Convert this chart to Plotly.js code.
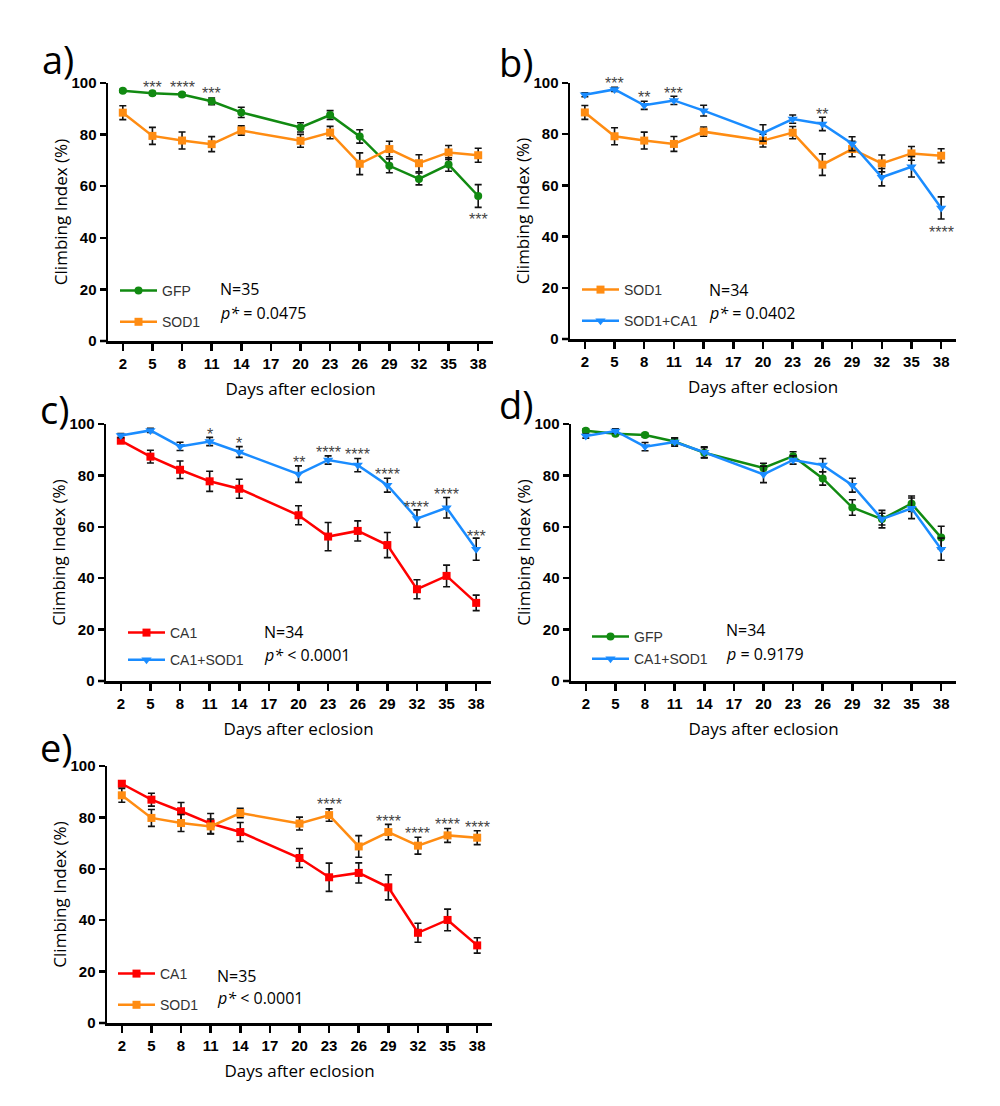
<!DOCTYPE html>
<html>
<head>
<meta charset="utf-8">
<script src="https://cdn.plot.ly/plotly-3.0.1.min.js"></script>
<style>body{margin:0;background:#fff}</style>
</head>
<body>
<div id="chart" style="width:1000px;height:1106px"></div>
<script>
const days = [2, 5, 8, 11, 14, 20, 23, 26, 29, 32, 35, 38]
const tickDays = [2, 5, 8, 11, 14, 17, 20, 23, 26, 29, 32, 35, 38]
const yTicks = [0, 20, 40, 60, 80, 100]

// a) GFP vs SOD1
const aGFP = [97.0, 96.0, 95.5, 92.9, 88.6, 82.8, 87.6, 79.3, 67.9, 62.8, 68.4, 56.2]
const aGFPErr = [0.6, 0.7, 0.7, 1.3, 2.0, 1.8, 1.7, 2.6, 2.7, 2.3, 2.6, 4.4]
const aSOD1 = [88.5, 79.5, 77.7, 76.3, 81.6, 77.6, 80.8, 68.7, 74.4, 68.9, 73.1, 72.0]
const aSOD1Err = [2.7, 3.3, 3.3, 2.9, 1.8, 2.5, 2.4, 4.2, 3.0, 3.3, 2.7, 2.7]
const aStarDays = [5, 8, 11, 38]
const aStars = ['***', '****', '***', '***']
const aStarY = [100.0, 100.0, 97.4, 48.8]

// b) SOD1 vs SOD1+CA1
const bSOD1 = [88.5, 79.2, 77.5, 76.2, 81.0, 77.5, 80.6, 68.1, 74.2, 68.6, 72.5, 71.6]
const bSOD1Err = [2.7, 3.3, 3.3, 2.9, 1.8, 2.5, 2.4, 4.2, 3.0, 3.3, 2.7, 2.7]
const bSOD1CA1 = [95.4, 97.5, 91.3, 93.2, 89.2, 80.5, 85.9, 84.0, 76.3, 63.2, 67.3, 51.2]
const bSOD1CA1Err = [0.8, 0.8, 1.6, 1.6, 2.1, 3.2, 1.6, 2.6, 2.7, 3.4, 4.0, 4.3]
const bStarDays = [5, 8, 11, 26, 38]
const bStars = ['***', '**', '***', '**', '****']
const bStarY = [101.3, 95.8, 97.4, 89.3, 43.1]

// c) CA1 vs CA1+SOD1
const cCA1 = [93.5, 87.3, 82.2, 77.7, 74.8, 64.5, 56.2, 58.4, 52.9, 35.7, 40.9, 30.4]
const cCA1Err = [1.0, 2.5, 3.4, 3.9, 3.7, 3.7, 5.5, 3.9, 4.9, 3.7, 4.2, 3.0]
const cCA1SOD1 = [95.5, 97.5, 91.3, 93.2, 89.1, 80.5, 86.0, 84.0, 76.2, 63.2, 67.4, 51.3]
const cCA1SOD1Err = [0.8, 0.8, 1.6, 1.6, 2.1, 3.2, 1.6, 2.6, 2.7, 3.4, 4.0, 4.3]
const cStarDays = [11, 14, 20, 23, 26, 29, 32, 35, 38]
const cStars = ['*', '*', '**', '****', '****', '****', '****', '****', '***']
const cStarY = [97.5, 93.9, 86.5, 90.3, 89.6, 82.0, 69.2, 74.2, 57.9]

// d) GFP vs CA1+SOD1
const dGFP = [97.4, 96.2, 95.7, 93.2, 88.8, 82.9, 87.5, 78.8, 67.5, 63.0, 69.0, 55.8]
const dGFPErr = [0.6, 0.7, 0.7, 1.3, 2.0, 1.8, 1.7, 2.6, 3.0, 2.3, 3.0, 4.4]
const dCA1SOD1 = [95.3, 97.3, 91.2, 93.0, 89.0, 80.4, 86.0, 84.0, 76.2, 63.0, 67.2, 51.3]
const dCA1SOD1Err = [0.8, 0.8, 1.6, 1.6, 2.1, 3.2, 1.6, 2.6, 2.7, 3.4, 4.0, 4.3]

// e) CA1 vs SOD1
const eCA1 = [93.1, 86.9, 82.4, 77.6, 74.3, 64.2, 56.7, 58.4, 52.8, 35.1, 40.1, 30.2]
const eCA1Err = [1.0, 2.5, 3.4, 3.9, 3.7, 3.7, 5.5, 3.9, 4.9, 3.7, 4.2, 3.0]
const eSOD1 = [88.6, 79.8, 77.8, 76.5, 81.7, 77.6, 80.9, 68.7, 74.3, 69.0, 73.0, 72.1]
const eSOD1Err = [2.7, 3.3, 3.3, 2.9, 1.8, 2.5, 2.4, 4.2, 3.0, 3.3, 2.7, 2.7]
const eStarDays = [23, 29, 32, 35, 38]
const eStars = ['****', '****', '****', '****', '****']
const eStarY = [86.4, 79.8, 75.2, 78.9, 77.8]

const W = 1000, H = 1106
const px = x => x / W
const py = y => 1 - y / H

const GREEN = '#118a11', ORANGE = '#ff8c12', BLUE = '#1a8cff', RED = '#ff0000'
const style = {
    GFP: {color: GREEN, symbol: 'circle', size: 8},
    SOD1: {color: ORANGE, symbol: 'square', size: 8},
    CA1: {color: RED, symbol: 'square', size: 8},
    'SOD1+CA1': {color: BLUE, symbol: 'triangle-down', size: 9},
    'CA1+SOD1': {color: BLUE, symbol: 'triangle-down', size: 9},
}

const panels = [
    {label: 'a)', lab: [40, 59], box: [108, 493, 83, 341], series: [['GFP', aGFP, aGFPErr], ['SOD1', aSOD1, aSOD1Err]],
        stars: [aStarDays, aStars, aStarY], legend: [115, 275, 10], note: [218, 'N=35', '<i>p*</i> = 0.0475'], noteY: [289, 313]},
    {label: 'b)', lab: [497, 62], box: [570, 956, 83, 339], series: [['SOD1', bSOD1, bSOD1Err], ['SOD1+CA1', bSOD1CA1, bSOD1CA1Err]],
        stars: [bStarDays, bStars, bStarY], legend: [577, 274, 10], note: [707, 'N=34', '<i>p*</i> = 0.0402'], noteY: [290, 313]},
    {label: 'c)', lab: [38, 409], box: [106, 491, 424, 681], series: [['CA1', cCA1, cCA1Err], ['CA1+SOD1', cCA1SOD1, cCA1SOD1Err]],
        stars: [cStarDays, cStars, cStarY], legend: [123, 617, 6], note: [262, 'N=34', '<i>p*</i> < 0.0001'], noteY: [632, 655]},
    {label: 'd)', lab: [497, 404], box: [571, 956, 424, 681], series: [['GFP', dGFP, dGFPErr], ['CA1+SOD1', dCA1SOD1, dCA1SOD1Err]],
        stars: null, legend: [587, 621, 1], note: [724, 'N=34', '<i>p</i> = 0.9179'], noteY: [630, 654]},
    {label: 'e)', lab: [38, 747], box: [107, 492, 766, 1023], series: [['CA1', eCA1, eCA1Err], ['SOD1', eSOD1, eSOD1Err]],
        stars: [eStarDays, eStars, eStarY], legend: [113, 958, 10], note: [215, 'N=35', '<i>p*</i> < 0.0001'], noteY: [976, 998]},
]

const data = []
const layout = {
    width: W, height: H,
    margin: {l: 0, r: 0, t: 0, b: 0},
    paper_bgcolor: 'white', plot_bgcolor: 'white',
    showlegend: true,
    font: {family: 'Liberation Sans, Arial, sans-serif', color: '#000'},
    annotations: [],
    shapes: [],
}

panels.forEach((p, i) => {
    const n = i === 0 ? '' : String(i + 1)
    const xa = 'x' + n, ya = 'y' + n
    const legendId = i === 0 ? 'legend' : 'legend' + (i + 1)
    const [x0, x1, yTop, yBot] = p.box
    const pxPerUnit = (yBot - yTop) / 100

    p.series.forEach(([name, vals, errs], k) => {
        const s = style[name]
        data.push({
            type: 'scatter', mode: 'lines+markers', name: name,
            x: days, y: vals,
            xaxis: xa, yaxis: ya,
            legend: legendId, legendgroup: 'g' + i + '_' + k,
            line: {color: s.color, width: 2.5},
            marker: {color: s.color, symbol: s.symbol, size: s.size},
            error_y: {type: 'data', array: errs, visible: true, color: '#111', thickness: 1.6, width: 3.5},
            cliponaxis: false,
        })
    })

    layout['xaxis' + n] = {
        domain: [px(x0), px(x1)], anchor: ya,
        range: [0.5, 39.5],
        tickmode: 'array', tickvals: tickDays, ticktext: tickDays.map(String),
        ticks: 'outside', ticklen: 7, tickwidth: 2.5, tickcolor: '#000',
        showline: true, linewidth: 2.5, linecolor: '#000',
        showgrid: false, zeroline: false,
        tickfont: {family: 'Liberation Sans, Arial, sans-serif', size: 15, weight: 'bold', color: '#000'},
        title: {text: 'Days after eclosion', standoff: 13,
            font: {family: 'Open Sans, sans-serif', size: 17, color: '#000'}},
    }
    layout['yaxis' + n] = {
        domain: [py(yBot), py(yTop)], anchor: xa,
        range: [0, 100],
        tickmode: 'array', tickvals: yTicks,
        ticks: 'outside', ticklen: 6, tickwidth: 2.5, tickcolor: '#000',
        showline: true, linewidth: 2.5, linecolor: '#000',
        showgrid: false, zeroline: false,
        tickfont: {family: 'Liberation Sans, Arial, sans-serif', size: 15, weight: 'bold', color: '#000'},
        title: {text: 'Climbing Index (%)', standoff: 0,
            font: {family: 'Open Sans, sans-serif', size: 17, color: '#000'}},
    }

    // x axis line runs a little past the y axis, Prism style
    layout.shapes.push({
        type: 'line', xref: 'paper', yref: 'paper', layer: 'above',
        x0: px(x0 - 8), x1: px(x0), y0: py(yBot), y1: py(yBot),
        line: {color: '#000', width: 2.5},
    })

    const [lx, ly, gap] = p.legend
    layout[legendId] = {
        x: px(lx), y: py(ly), xanchor: 'left', yanchor: 'top',
        bgcolor: 'rgba(0,0,0,0)', borderwidth: 0,
        traceorder: 'grouped', tracegroupgap: gap, itemwidth: 37,
        font: {family: 'Liberation Sans, Arial, sans-serif', size: 14, color: '#333'},
    }

    // panel letter
    layout.annotations.push({
        xref: 'paper', yref: 'paper', x: px(p.lab[0]), y: py(p.lab[1]),
        xanchor: 'left', yanchor: 'middle', showarrow: false,
        text: p.label, font: {family: 'Open Sans, sans-serif', size: 38, color: '#000'},
    })
    // N and p value
    const [nx, nText, pText] = p.note
    layout.annotations.push({
        xref: 'paper', yref: 'paper', x: px(nx), y: py(p.noteY[0]),
        xanchor: 'left', yanchor: 'middle', showarrow: false,
        text: nText, font: {family: 'Open Sans, sans-serif', size: 16, color: '#000'},
    })
    layout.annotations.push({
        xref: 'paper', yref: 'paper', x: px(nx), y: py(p.noteY[1]),
        xanchor: 'left', yanchor: 'middle', showarrow: false,
        text: pText, font: {family: 'Open Sans, sans-serif', size: 16, color: '#000'},
    })
    // significance stars (kept inside the axis range, lifted by yshift when above 100)
    if (p.stars) {
        const [sd, st, sy] = p.stars
        sd.forEach((d, k) => {
            const over = Math.max(0, sy[k] - 100)
            layout.annotations.push({
                xref: xa, yref: ya, x: d, y: Math.min(sy[k], 100),
                xanchor: 'center', yanchor: 'middle', yshift: -4 + over * pxPerUnit, showarrow: false,
                text: st[k], font: {family: 'Liberation Sans, Arial, sans-serif', size: 16, color: '#444'},
            })
        })
    }
})

Plotly.newPlot('chart', data, layout, {staticPlot: true})
</script>
</body>
</html>
